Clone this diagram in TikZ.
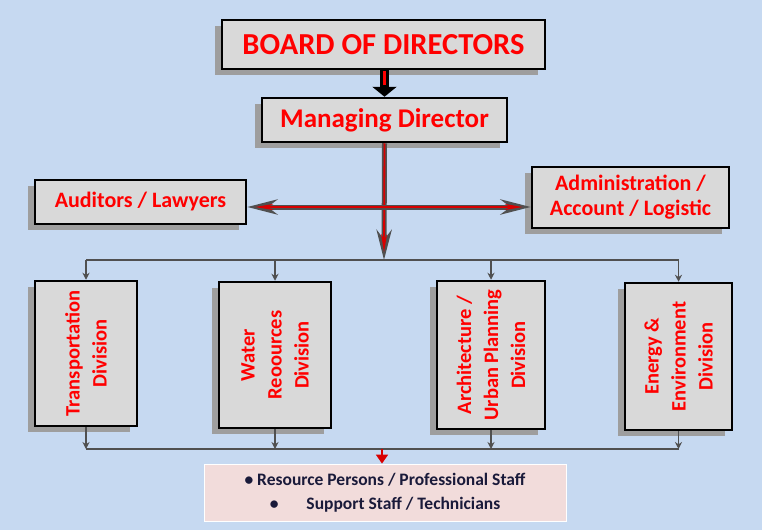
\documentclass[tikz,border=0pt]{standalone}
\usepackage{fontspec}
\setmainfont{Carlito}
\usepackage{xcolor}
\usetikzlibrary{arrows.meta,shadows}
\definecolor{bgblue}{HTML}{C6D9F1}
\definecolor{boxgray}{HTML}{D9D9D9}
\definecolor{orgred}{HTML}{FF0000}
\definecolor{linegray}{HTML}{505050}
\definecolor{staffpink}{HTML}{F2DCDB}
\definecolor{staffnavy}{HTML}{1A1A3A}

\begin{document}
\begin{tikzpicture}[x=1pt, y=-1pt,
  orgbox/.style={draw=black, line width=2.5pt, fill=boxgray, align=center,
    text=orgred, font=\bfseries, inner sep=2pt,
    drop shadow={shadow xshift=-7pt, shadow yshift=-6pt, fill=black!38, opacity=1}},
  divbox/.style={orgbox, rotate=90, font=\bfseries\fontsize{20.5}{27}\selectfont},
  fatgray/.style={draw=linegray, line width=5pt},
  thinred/.style={draw=orgred!85!black, line width=1.8pt},
  link/.style={draw=linegray, line width=1.6pt, -{Stealth[length=7pt, width=7pt]}},
  >=Stealth]
  \fill[bgblue] (0,0) rectangle (762,530);
  \useasboundingbox (0,0) rectangle (762,530);
  % top of the chart
  \node[orgbox, minimum width=323pt, minimum height=49pt,
    font=\bfseries\fontsize{30.5}{33}\selectfont] (board) at (383.5,44.5) {BOARD OF DIRECTORS};
  \node[orgbox, minimum width=245pt, minimum height=44pt,
    font=\bfseries\fontsize{27}{30}\selectfont] (md) at (384.5,120) {Managing Director};
  \node[orgbox, minimum width=211pt, minimum height=44pt,
    font=\bfseries\fontsize{22}{25}\selectfont] (aud) at (140.5,202) {Auditors / Lawyers};
  \node[orgbox, minimum width=197pt, minimum height=61pt,
    font=\bfseries\fontsize{22}{25}\selectfont] (adm) at (630.5,197.5) {Administration /\\Account / Logistic};
  % divisions
  \node[divbox, minimum width=145pt, minimum height=102pt] (trans) at (86,353.5)
    {Transportation\\Division};
  \node[divbox, minimum width=146pt, minimum height=112pt] (water) at (275,355)
    {Water\\Reoources\\Division};
  \node[divbox, minimum width=148pt, minimum height=108pt] (arch) at (491,355)
    {Architecture /\\Urban Planning\\Division};
  \node[divbox, minimum width=147pt, minimum height=107pt] (energy) at (678.5,356.5)
    {Energy \&\\Environment\\Division};
  % staff
  \node[draw=white, line width=0.8pt, fill=staffpink, minimum width=362pt,
    minimum height=57pt, align=center, text=staffnavy,
    font=\bfseries\fontsize{17.5}{24}\selectfont] (staff) at (385,492.5)
    {\textbullet\ Resource Persons / Professional Staff\\
     \textbullet\hspace{1.6em}Support Staff / Technicians};
  \coordinate (split) at (384,260);
  \coordinate (join) at (382,449);
  % board -> managing director
  \draw[draw=black, line width=9pt, -{Triangle[length=10pt, width=24pt]}]
    (board.south -| md) -- (md.north);
  \draw[draw=orgred, line width=3pt] ([yshift=-1pt]board.south -| md) -- ([yshift=12pt]md.north);
  % managing director -> divisions
  \draw[link, -] (trans.east |- split) -- (energy.east |- split);
  \draw[fatgray, -{Stealth[length=30pt, width=15pt]}] (md.south) -- (split);
  \draw[thinred, -{Stealth[length=18pt, width=6pt]}] (md.south) -- ([yshift=8pt]split);
  \draw[fatgray, {Stealth[length=30pt, width=15pt]}-{Stealth[length=30pt, width=15pt]}]
    ([yshift=-5pt]aud.east) -- ([yshift=-5pt]aud.east -| adm.west);
  \draw[thinred, {Stealth[length=18pt, width=6pt]}-{Stealth[length=18pt, width=6pt]}]
    ([xshift=8pt, yshift=-5pt]aud.east) -- ([xshift=-8pt, yshift=-5pt]aud.east -| adm.west);
  \foreach \d in {trans,water,arch,energy} {
    \draw[link] (\d.east |- split) -- (\d.east);
    \draw[link] (\d.west) -- (\d.west |- join);
  }
  \draw[link, -] (trans.west |- join) -- (energy.west |- join);
  \draw[draw=orgred!85!black, line width=1.6pt, -{Triangle[length=9pt, width=12pt]}]
    (join) -- (join |- staff.north);
\end{tikzpicture}
\end{document}
